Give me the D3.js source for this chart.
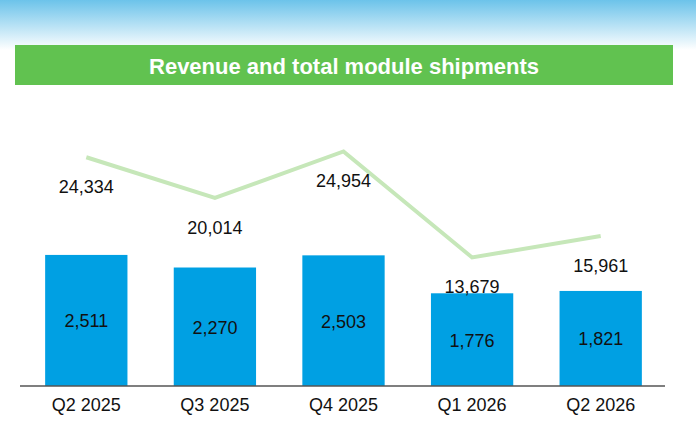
<!DOCTYPE html><html><head><meta charset="utf-8"><script src="https://cdn.jsdelivr.net/npm/d3@7"></script>
<style>body{margin:0}svg{font-family:"Liberation Sans",Arial,sans-serif}</style></head><body><svg width="696" height="427"></svg>
<script>
const categories=["Q2 2025","Q3 2025","Q4 2025","Q1 2026","Q2 2026"];
const revenue=[2511,2270,2503,1776,1821];
const shipments=[24334,20014,24954,13679,15961];
const svg=d3.select("svg");
const defs=svg.append("defs");
const g=defs.append("linearGradient").attr("id","sky").attr("x1",0).attr("x2",0).attr("y1",0).attr("y2",1);
g.append("stop").attr("offset","0%").attr("stop-color","#6cc3ea");
g.append("stop").attr("offset","100%").attr("stop-color","#ffffff");
svg.append("rect").attr("width",696).attr("height",427).attr("fill","#fff");
svg.append("rect").attr("width",696).attr("height",50).attr("fill","url(#sky)");
svg.append("rect").attr("x",15).attr("y",45).attr("width",658).attr("height",40).attr("fill","#61c250");
svg.append("text").attr("x",344).attr("y",74).attr("text-anchor","middle").attr("fill","#fff").attr("font-size",22).attr("font-weight","bold").text("Revenue and total module shipments");
const x=d3.scaleBand().domain(categories).range([22,665]).paddingInner(0.36).paddingOuter(0.18);
const base=386;
const yB=d3.scaleLinear().domain([0,5479]).range([base,100]);
const yL=d3.scaleLinear().domain([0,30426]).range([base,100]);
svg.selectAll(".bar").data(revenue).join("rect").attr("x",(d,i)=>x(categories[i])).attr("width",x.bandwidth())
 .attr("y",d=>yB(d)).attr("height",d=>base-yB(d)).attr("fill","#00a0e3");
svg.append("line").attr("x1",20).attr("x2",665).attr("y1",base).attr("y2",base).attr("stroke","#555").attr("stroke-width",1.5);
const cx=i=>x(categories[i])+x.bandwidth()/2;
svg.append("path").datum(shipments).attr("fill","none").attr("stroke","#c6e7b9").attr("stroke-width",4)
 .attr("d",d3.line().x((d,i)=>cx(i)).y(d=>yL(d)));
svg.selectAll(".bl").data(revenue).join("text").attr("x",(d,i)=>cx(i)).attr("y",d=>(yB(d)+base)/2+7).attr("text-anchor","middle").attr("font-size",18).attr("fill","#111").text(d=>d3.format(",")(d));
svg.selectAll(".ll").data(shipments).join("text").attr("x",(d,i)=>cx(i)).attr("y",d=>yL(d)+36).attr("text-anchor","middle").attr("font-size",18).attr("fill","#111").text(d=>d3.format(",")(d));
svg.selectAll(".tl").data(categories).join("text").attr("x",(d,i)=>cx(i)).attr("y",411).attr("text-anchor","middle").attr("font-size",18).attr("fill","#111").text(d=>d);
</script></body></html>
